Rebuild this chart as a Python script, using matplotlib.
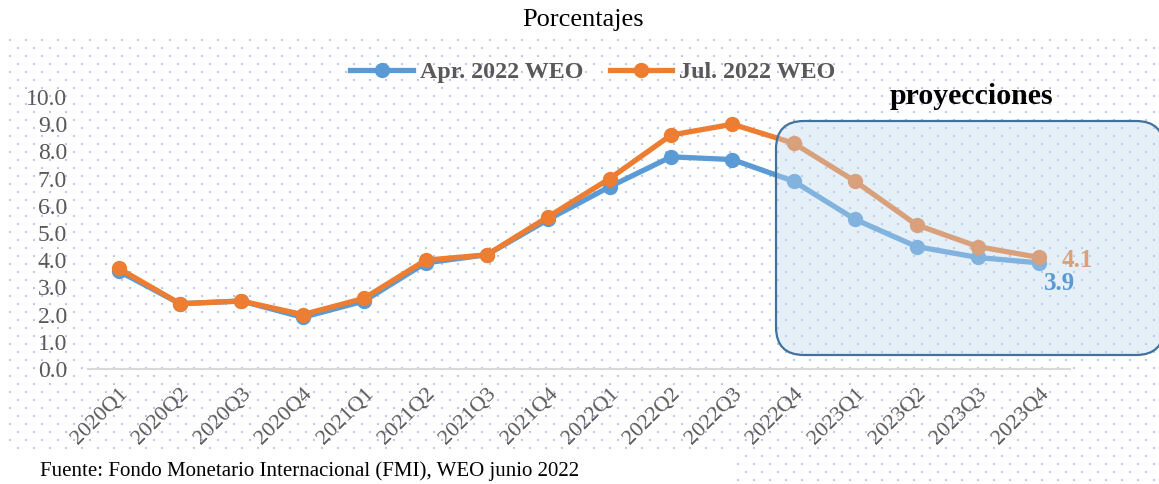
import numpy as np
import matplotlib
matplotlib.use("Agg")
import matplotlib.pyplot as plt
from matplotlib.patches import FancyBboxPatch
from matplotlib.lines import Line2D

categories = ["2020Q1", "2020Q2", "2020Q3", "2020Q4", "2021Q1", "2021Q2", "2021Q3", "2021Q4",
              "2022Q1", "2022Q2", "2022Q3", "2022Q4", "2023Q1", "2023Q2", "2023Q3", "2023Q4"]
apr_2022 = [3.6, 2.4, 2.5, 1.9, 2.5, 3.9, 4.2, 5.5, 6.7, 7.8, 7.7, 6.9, 5.5, 4.5, 4.1, 3.9]
jul_2022 = [3.7, 2.4, 2.5, 2.0, 2.6, 4.0, 4.2, 5.6, 7.0, 8.6, 9.0, 8.3, 6.9, 5.3, 4.5, 4.1]
yticks = [0, 1, 2, 3, 4, 5, 6, 7, 8, 9, 10]

plt.rcParams['font.family'] = ['Liberation Serif', 'DejaVu Serif']

W, H = 1159, 484
fig = plt.figure(figsize=(W / 100, H / 100), dpi=100)

# background dot pattern (pixel coordinates)
bg = fig.add_axes([0, 0, 1, 1], zorder=0)
bg.set_xlim(0, W)
bg.set_ylim(H, 0)
bg.axis('off')
xs, ys = [], []
for i, y in enumerate(np.arange(40, H, 8)):
    x0 = 10 if i % 2 == 0 else 18
    for x in np.arange(x0, W, 16):
        if y > 452 and x < 738:
            continue
        xs.append(x)
        ys.append(y)
bg.scatter(xs, ys, s=2.4, marker='s', color='#b4c7e7', linewidths=0)

# main axes
ax = fig.add_axes([88 / W, 1 - 369 / H, (1070 - 88) / W, (369 - 97) / H], zorder=1)
ax.patch.set_alpha(0)
x = np.arange(len(categories))
blue = '#5b9bd5'
orange = '#ed7d31'
ax.plot(x, apr_2022, color=blue, lw=3.8, marker='o', ms=10, solid_capstyle='round', zorder=3)
ax.plot(x, jul_2022, color=orange, lw=3.8, marker='o', ms=10, solid_capstyle='round', zorder=4)
ax.set_xlim(-0.5, len(categories) - 0.5)
ax.set_ylim(0, 10)
ax.set_yticks(yticks)
ax.set_yticklabels([f"{v:.1f}" for v in yticks], fontsize=17, color='#595959')
ax.set_xticks(x)
ax.set_xticklabels(categories, rotation=45, ha='right', rotation_mode='anchor',
                   fontsize=16, color='#595959')
ax.tick_params(axis='both', length=0)
ax.tick_params(axis='y', pad=15)
ax.tick_params(axis='x', pad=11)
for s in ['top', 'right', 'left']:
    ax.spines[s].set_visible(False)
ax.spines['bottom'].set_color('#d9d9d9')
ax.spines['bottom'].set_linewidth(1.5)

# overlay for projection box and labels
ov = fig.add_axes([0, 0, 1, 1], zorder=2)
ov.set_xlim(0, W)
ov.set_ylim(H, 0)
ov.axis('off')
box = FancyBboxPatch((776, 121), 388, 234, boxstyle="round,pad=0,rounding_size=28",
                     facecolor=(189 / 255, 215 / 255, 238 / 255, 0.4), edgecolor='#41719c', lw=1.6)
ov.add_patch(box)
ov.annotate(f"{jul_2022[-1]:.1f}", xy=(x[-1], jul_2022[-1]), xycoords=ax.transData,
            xytext=(16, -2), textcoords='offset points', fontsize=18, fontweight='bold',
            color='#d9a07a', va='center', ha='left')
ov.annotate(f"{apr_2022[-1]:.1f}", xy=(x[-1], apr_2022[-1]), xycoords=ax.transData,
            xytext=(3, -15), textcoords='offset points', fontsize=18, fontweight='bold',
            color=blue, va='center', ha='left')
ov.text(971, 97, "proyecciones", fontsize=21.5, fontweight='bold', color='black',
        ha='center', va='center')

fig.text(583 / W, 1 - 20 / H, "Porcentajes", fontsize=19, ha='center', va='center', color='black')
fig.text(40 / W, 1 - 471 / H, "Fuente: Fondo Monetario Internacional (FMI), WEO junio 2022",
         fontsize=15, ha='left', va='center', color='black')

handles = [Line2D([], [], color=blue, lw=3.8, marker='o', ms=10),
           Line2D([], [], color=orange, lw=3.8, marker='o', ms=10)]
leg = fig.legend(handles, ["Apr. 2022 WEO", "Jul. 2022 WEO"], loc='center',
                 bbox_to_anchor=(593 / W, 1 - 72 / H), ncol=2, frameon=False,
                 handlelength=2.6, handletextpad=0.3, columnspacing=1.1,
                 prop={'size': 17.3, 'weight': 'bold'})
for t in leg.get_texts():
    t.set_color('#595959')

fig.savefig("out.png", dpi=100)
